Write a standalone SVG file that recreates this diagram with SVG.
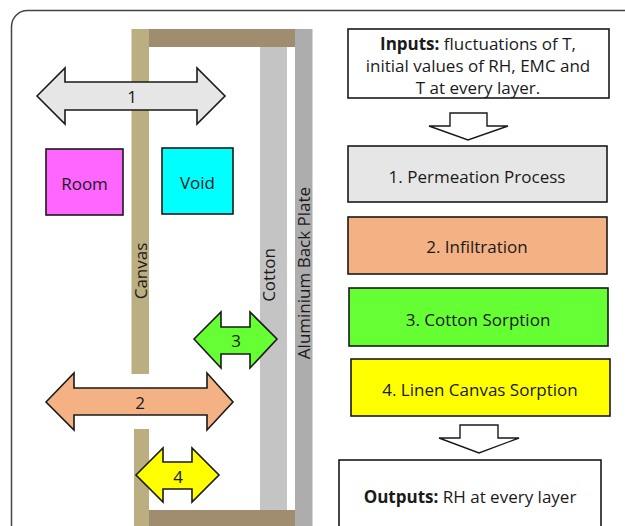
<svg xmlns="http://www.w3.org/2000/svg" width="625" height="526" viewBox="0 0 625 526">
<style>
text{font-family:"Open Sans","Liberation Sans",sans-serif;fill:#1a1a1a;}
.lbl{font-size:17px;text-anchor:middle;dominant-baseline:central;}
.box{stroke:#1a1a1a;stroke-width:1.6;}
.arr{stroke:#1a1a1a;stroke-width:1.6;stroke-linejoin:miter;}
.down{fill:#fff;stroke:#1a1a1a;stroke-width:1.4;}
</style>
<rect x="11.5" y="10.5" width="700" height="600" rx="16" fill="#fff" stroke="#444" stroke-width="1.5"/>
<g id="layers">
<rect x="131.5" y="29" width="17.5" height="345" fill="#BBAE80"/>
<rect x="134" y="429" width="15" height="97" fill="#BBAE80"/>
<rect x="149" y="29" width="146" height="18" fill="#A08C6E"/>
<rect x="149" y="510" width="148" height="16" fill="#A08C6E"/>
<rect x="260" y="47" width="27" height="463" fill="#C4C4C4"/>
<rect x="295" y="29" width="17.5" height="497" fill="#ADADAD"/>
<text class="lbl" transform="translate(140.5,271) rotate(-90)">Canvas</text>
<text class="lbl" transform="translate(268.5,275) rotate(-90)">Cotton</text>
<text class="lbl" transform="translate(303.5,273) rotate(-90)">Aluminium Back Plate</text>
</g>
<g id="room">
<rect class="box" x="46" y="149" width="77" height="66" fill="#FF66FF"/>
<text class="lbl" x="84.5" y="183">Room</text>
</g>
<g id="void">
<rect class="box" x="162" y="148" width="71" height="66" fill="#00FFFF"/>
<text class="lbl" x="197.5" y="182">Void</text>
</g>
<g id="connectors">
<g id="arrow1">
<polygon class="arr" fill="#E6E6E6" points="37,96 65,68 65,82 197,82 197,68 225,96 197,124 197,110 65,110 65,124"/>
<text class="lbl" x="132" y="96">1</text>
</g>
<g id="arrow2">
<polygon class="arr" fill="#F4B183" points="46,402 74,373 74,388 207,388 207,373 233,402 207,430 207,415 74,415 74,430"/>
<text class="lbl" x="140" y="402">2</text>
</g>
<g id="arrow3">
<polygon class="arr" fill="#66FF33" points="194,339 221,312 221,327 250,327 250,312 277,339 250,368 250,354 221,354 221,368"/>
<text class="lbl" x="236" y="340">3</text>
</g>
<g id="arrow4">
<polygon class="arr" fill="#FFFF00" points="136,475 163,448 163,462 192,462 192,448 219,475 192,502 192,489 163,489 163,502"/>
<text class="lbl" x="178" y="476">4</text>
</g>
<polygon id="down1" class="down" points="450,113 487,113 487,126 508,126 468,140 429,126 450,126"/>
<polygon id="down2" class="down" points="460,425 498,425 498,438 519,438 479,453 439,438 460,438"/>
</g>
<g id="inputs">
<rect class="box" x="348" y="29" width="261" height="69" fill="#fff"/>
<text class="lbl" x="478" y="43"><tspan font-weight="bold">Inputs:</tspan> fluctuations of T,</text>
<text class="lbl" x="478" y="65">initial values of RH, EMC and</text>
<text class="lbl" x="478" y="87">T at every layer.</text>
</g>
<g id="step1">
<rect class="box" x="348" y="146" width="259" height="56" fill="#E6E6E6"/>
<text class="lbl" x="477" y="176">1. Permeation Process</text>
</g>
<g id="step2">
<rect class="box" x="348" y="217" width="259" height="57" fill="#F4B183"/>
<text class="lbl" x="477" y="246">2. Infiltration</text>
</g>
<g id="step3">
<rect class="box" x="349" y="288" width="259" height="58" fill="#66FF33"/>
<text class="lbl" x="478" y="319">3. Cotton Sorption</text>
</g>
<g id="step4">
<rect class="box" x="351" y="359" width="259" height="57" fill="#FFFF00"/>
<text class="lbl" x="480" y="389">4. Linen Canvas Sorption</text>
</g>
<g id="outputs">
<rect class="box" x="339" y="460" width="262" height="80" fill="#fff"/>
<text class="lbl" x="470" y="496"><tspan font-weight="bold">Outputs:</tspan> RH at every layer</text>
</g>
</svg>
